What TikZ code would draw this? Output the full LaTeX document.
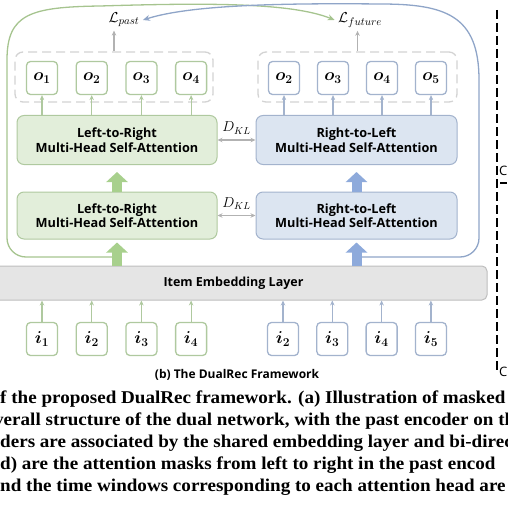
\documentclass[tikz,border=0pt]{standalone}
\usepackage{fontspec}
\usepackage{graphicx}
\usepackage{bm}
\usetikzlibrary{arrows.meta}
\newfontfamily\boxfont{Open Sans}
\newfontfamily\capfont{Liberation Serif}
\newcommand{\capline}[1]{\scalebox{1.06}[1]{#1}}
\definecolor{gedge}{HTML}{AFC99F}
\definecolor{gfill}{HTML}{E2EEDA}
\definecolor{garrow}{HTML}{A8D08D}
\definecolor{gline}{HTML}{A6C48F}
\definecolor{bedge}{HTML}{A3B3CD}
\definecolor{bfill}{HTML}{DCE5F1}
\definecolor{barrow}{HTML}{8EAADB}
\definecolor{bline}{HTML}{8FA5C8}
\definecolor{embfill}{HTML}{E5E5E5}
\definecolor{embedge}{HTML}{BEBEBE}
\definecolor{dashgray}{HTML}{D3D3D3}
\definecolor{arrgray}{HTML}{B2B2B2}
\tikzset{
    obox/.style={draw=#1, fill=white, line width=1.3pt, rounded corners=4pt,
        minimum width=31pt, minimum height=33pt, inner sep=0pt,
        font=\fontsize{17}{17}\selectfont},
    attn/.style={line width=1pt, rounded corners=7pt, minimum width=200pt,
        minimum height=49pt, align=center, inner sep=0pt,
        font=\boxfont\bfseries\fontsize{12.7}{14.5}\selectfont},
    gattn/.style={attn, draw=gedge, fill=gfill},
    battn/.style={attn, draw=bedge, fill=bfill},
    dashbox/.style={draw=dashgray, line width=1.3pt, dash pattern=on 9pt off 5pt,
        rounded corners=8pt, minimum width=198pt, minimum height=50pt},
    smallarr/.style={-{Stealth[length=5pt,width=4.5pt]}, line width=1.2pt},
    bigarr/.style={-{Triangle[length=10pt,width=21pt]}, line width=10pt},
    backcurve/.style={-{Stealth[length=7pt,width=6pt]}, line width=1.3pt},
    klarr/.style={{Stealth[length=5pt,width=4.5pt]}-{Stealth[length=5pt,width=4.5pt]},
        line width=1.2pt, draw=arrgray}
}

\begin{document}
\begin{tikzpicture}[x=1pt,y=-1pt]
\useasboundingbox (0,0) rectangle (507,508);

% losses
\node[font=\fontsize{15.5}{15.5}\selectfont] (lpast) at (124,20) {$\mathcal{L}_{past}$};
\node[font=\fontsize{15.5}{15.5}\selectfont] (lfut) at (360,20) {$\mathcal{L}_{future}$};

% output groups
\node[dashbox] (pastout) at (114,77) {};
\node[dashbox, minimum width=199pt] (futout) at (357.5,77) {};
\foreach \n [count=\k from 0] in {1,2,3,4}
    \node[obox=gedge] (po\n) at (42+49.7*\k,78) {$\bm{o}_{\bm{\n}}$};
\foreach \n [count=\k from 0] in {2,3,4,5}
    \node[obox=bedge] (fo\n) at (284+49*\k,78) {$\bm{o}_{\bm{\n}}$};

% attention layers
\node[gattn] (lrup) at (117,140) {Left-to-Right\\Multi-Head Self-Attention};
\node[battn, minimum width=201pt] (rlup) at (356.5,140) {Right-to-Left\\Multi-Head Self-Attention};
\node[gattn, minimum height=47pt] (lrlo) at (117,215.5) {Left-to-Right\\Multi-Head Self-Attention};
\node[battn, minimum width=201pt, minimum height=47pt] (rllo) at (356.5,215.5) {Right-to-Left\\Multi-Head Self-Attention};

% embedding
\node[draw=embedge, fill=embfill, line width=1pt, rounded corners=5pt,
      minimum width=507pt, minimum height=34pt,
      font=\boxfont\bfseries\fontsize{12.5}{14}\selectfont] (emb) at (233.5,283) {Item Embedding Layer};

% inputs
\foreach \n [count=\k from 0] in {1,2,3,4}
    \node[obox=gedge] (pi\n) at (42+49.7*\k,339) {$\bm{i}_{\bm{\n}}$};
\foreach \n [count=\k from 0] in {2,3,4,5}
    \node[obox=bedge] (fi\n) at (283+49.3*\k,339) {$\bm{i}_{\bm{\n}}$};

% long curves
\coordinate (gfork) at (116,257);
\coordinate (bfork) at (354,257);
\draw[backcurve, gline] (gfork) -- (26,257) to[out=180,in=-90] (7,238) -- (7,60)
    .. controls (7,14) and (30,7) .. (100,6) .. controls (200,3) and (290,2) .. (lfut.west);
\draw[backcurve, bline] (bfork) -- (460,257) to[out=0,in=-90] (479,238) -- (479,80)
    .. controls (479,15) and (445,4) .. (380,4) .. controls (280,3) and (190,5) .. (lpast.east);

% fat arrows
\draw[bigarr, garrow, shorten >=3pt] (lrlo.south |- emb.north) -- (lrlo.south);
\draw[bigarr, barrow, shorten >=3pt] (rllo.south |- emb.north) -- (rllo.south);
\draw[bigarr, garrow, shorten >=7pt] (lrlo.north) -- (lrup.south);
\draw[bigarr, barrow, shorten >=7pt] (rllo.north) -- (rlup.south);

% small arrows
\foreach \n in {1,2,3,4} {
    \draw[smallarr, gedge] (po\n.south |- lrup.north) -- (po\n.south);
    \draw[smallarr, gedge] (pi\n.north) -- (pi\n.north |- emb.south);
}
\foreach \n in {2,3,4,5} {
    \draw[smallarr, bedge] (fo\n.south |- rlup.north) -- (fo\n.south);
    \draw[smallarr, bedge] (fi\n.north) -- (fi\n.north |- emb.south);
}
\draw[smallarr, arrgray] (pastout.north) -- (pastout.north |- lpast.south);
\draw[smallarr, arrgray] (futout.north) -- (futout.north |- lfut.south);

% KL terms
\draw[klarr] (lrup.east) -- node[above=2pt, font=\fontsize{14}{14}\selectfont] {$D_{KL}$} (rlup.west);
\draw[klarr] (lrlo.east) -- node[above=2pt, font=\fontsize{14}{14}\selectfont] {$D_{KL}$} (rllo.west);

\node[font=\boxfont\bfseries\fontsize{12}{14}\selectfont] (title) at (237,375) {(b) The DualRec Framework};

% separator and cut-off neighbour
\draw[line width=1.5pt, dash pattern=on 9pt off 4pt] (497,10) -- (497,372);
\draw[line width=1.2pt] (500,183) -- (507,183);
\node[anchor=west, inner sep=0pt, font=\boxfont\fontsize{13}{13}\selectfont] (cA) at (499,171) {C};
\node[anchor=west, inner sep=0pt, font=\boxfont\fontsize{13}{13}\selectfont] (cC) at (499,372) {C};

% caption fragment
\begin{scope}[every node/.style={anchor=base west, inner sep=0pt,
        font=\capfont\bfseries\fontsize{18}{22}\selectfont}]
\node (cap1) at (0,403) {\capline{f the proposed DualRec framework. (a) Illustration of masked}};
\node (cap2) at (-6,425) {\capline{verall structure of the dual network, with the past encoder on th}};
\node (cap3) at (0,447) {\capline{ders are associated by the shared embedding layer and bi-direct}};
\node (cap4) at (0,469) {\capline{d) are the attention masks from left to right in the past encod}};
\node (cap5) at (0,491) {\capline{nd the time windows corresponding to each attention head are (}};
\end{scope}
\end{tikzpicture}
\end{document}
